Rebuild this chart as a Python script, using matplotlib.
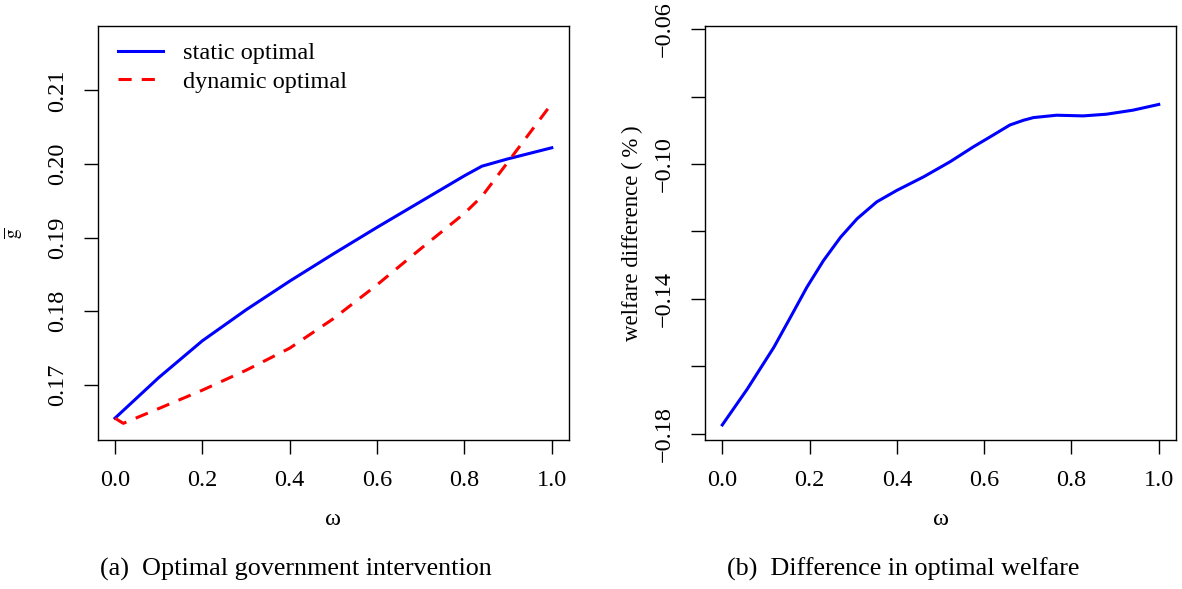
import numpy as np
import matplotlib
matplotlib.use("Agg")
import matplotlib.pyplot as plt

plt.rcParams['font.family'] = ['Liberation Serif', 'DejaVu Serif']
plt.rcParams['mathtext.fontset'] = 'stix'

# --- data ---
omega_a = [0.0, 0.1, 0.2, 0.3, 0.4, 0.5, 0.6, 0.7, 0.8, 0.84, 0.9, 1.0]
static_g = [0.1655, 0.1710, 0.1760, 0.1802, 0.1841, 0.1878, 0.1914, 0.1949,
            0.1984, 0.1997, 0.2007, 0.2022]
omega_d = [0.0, 0.019, 0.1, 0.2, 0.3, 0.4, 0.5, 0.6, 0.7, 0.8, 0.84, 0.9, 1.0]
dynamic_g = [0.1655, 0.1648, 0.1668, 0.1693, 0.1720, 0.1750, 0.1790, 0.1836,
             0.1885, 0.1933, 0.1956, 0.2003, 0.2082]

omega_b = [0.0, 0.057, 0.118, 0.156, 0.194, 0.232, 0.271, 0.309, 0.354, 0.400,
           0.461, 0.522, 0.575, 0.614, 0.659, 0.690, 0.713, 0.766, 0.827,
           0.880, 0.941, 1.0]
welfare_diff = [-0.1774, -0.1668, -0.1544, -0.1455, -0.1365, -0.1286, -0.1217,
                -0.1162, -0.1112, -0.1078, -0.1038, -0.0993, -0.0949, -0.0919,
                -0.0884, -0.0870, -0.0862, -0.0855, -0.0857, -0.0852, -0.0840,
                -0.0823]

xticks = [0.0, 0.2, 0.4, 0.6, 0.8, 1.0]
xticklabels = ['0.0', '0.2', '0.4', '0.6', '0.8', '1.0']
yticks_a = [0.17, 0.18, 0.19, 0.20, 0.21]
ylabels_a = ['0.17', '0.18', '0.19', '0.20', '0.21']
yticks_b = [-0.18, -0.16, -0.14, -0.12, -0.10, -0.08, -0.06]
ylabels_b = ['\u22120.18', '', '\u22120.14', '', '\u22120.10', '', '\u22120.06']

FS = 17.5

fig = plt.figure(figsize=(11.82, 5.89), dpi=100)
ax1 = fig.add_axes([0.0825, 0.2530, 0.3991, 0.7034])
ax2 = fig.add_axes([0.5963, 0.2530, 0.3988, 0.7034])

def r_style(ax):
    for s in ax.spines.values():
        s.set_linewidth(1.0)
    ax.tick_params(direction='out', length=10, width=1.0, labelsize=FS, pad=11.5)
    for lab in ax.get_yticklabels():
        lab.set_rotation(90)
        lab.set_va('center')
    ax.set_xlim(-0.04, 1.04)

# (a)
ax1.plot(omega_a, static_g, color='#0000FF', lw=2.2, label='static optimal')
ax1.plot(omega_d, dynamic_g, color='#FF0000', lw=2.2, dashes=(4.3, 3.3),
         label='dynamic optimal')
ax1.set_xticks(xticks)
ax1.set_xticklabels(xticklabels)
ax1.set_yticks(yticks_a)
ax1.set_yticklabels(ylabels_a)
ax1.set_ylim(0.16254, 0.21877)
r_style(ax1)
ax1.set_xlabel('\u03c9', fontsize=FS, va='center')
ax1.xaxis.set_label_coords(0.5, -0.1931)
ax1.set_ylabel(r'$\overline{\mathrm{g}}$', fontsize=14, va='center')
ax1.yaxis.set_label_coords(-0.178, 0.5)
ax1.legend(loc='upper left', bbox_to_anchor=(0.044, 0.96), frameon=False,
           fontsize=FS, borderpad=0, borderaxespad=0, handlelength=1.85,
           handletextpad=0.82, labelspacing=0.27)

# (b)
ax2.plot(omega_b, welfare_diff, color='#0000FF', lw=2.2)
ax2.set_xticks(xticks)
ax2.set_xticklabels(xticklabels)
ax2.set_yticks(yticks_b)
ax2.set_yticklabels(ylabels_b)
ax2.set_ylim(-0.18187, -0.05893)
r_style(ax2)
ax2.set_xlabel('\u03c9', fontsize=FS, va='center')
ax2.xaxis.set_label_coords(0.5, -0.1931)
ax2.set_ylabel('welfare difference (\u2009%\u2009)', fontsize=16.5, va='center')
ax2.yaxis.set_label_coords(-0.1545, 0.5)

fig.text(100.3 / 1182, 1 - 569 / 589, '(a)  Optimal government intervention',
         fontsize=18.8, ha='left', va='center')
fig.text(727.4 / 1182, 1 - 569 / 589, '(b)  Difference in optimal welfare',
         fontsize=18.8, ha='left', va='center')

fig.savefig('out.png', dpi=100)
